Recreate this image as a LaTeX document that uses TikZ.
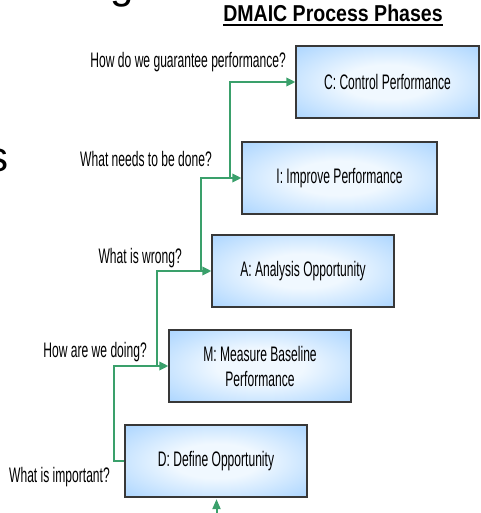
\documentclass[tikz,border=0pt]{standalone}
\usepackage{fontspec}
\setmainfont{Liberation Sans}
\newfontfamily\narrowfont[FakeStretch=0.575]{Liberation Sans}
\newfontfamily\titlefont[FakeStretch=0.85]{Liberation Sans Bold}
\usetikzlibrary{arrows.meta,calc}
\definecolor{boxblue}{HTML}{99CCFF}
\definecolor{boxcenter}{HTML}{F0F8FF}
\definecolor{flow}{HTML}{3AA06B}
\definecolor{boxedge}{HTML}{383838}
\pgfdeclareradialshading{phaseshade}{\pgfpoint{0bp}{0bp}}{color(0bp)=(boxcenter); color(12bp)=(boxcenter); color(42bp)=(boxblue); color(100bp)=(boxblue)}
\begin{document}
\begin{tikzpicture}[x=1bp,y=-1bp,
  phase/.style={draw=boxedge, line width=1.3bp, shade, shading=phaseshade,
    minimum width=182bp, minimum height=72bp, inner sep=0pt, align=center,
    font=\narrowfont\fontsize{21bp}{25bp}\selectfont, text=black},
  question/.style={font=\narrowfont\fontsize{21bp}{25bp}\selectfont, inner sep=0pt, anchor=base east},
  flowline/.style={draw=flow, line width=2bp},
  flowarrow/.style={flowline, -{Triangle[length=9bp,width=8.5bp]}},
  bigletter/.style={font=\fontsize{42bp}{48bp}\selectfont, inner sep=0pt}
]
\useasboundingbox (0,0) rectangle (481,513);
\clip (0,0) rectangle (481,513);

% fragments of the slide title
\node[bigletter, anchor=base] (gfrag) at (122.5,-1) {g};
\node[bigletter, anchor=base east] (sfrag) at (9,172) {s};

% title
\node[font=\titlefont\fontsize{23bp}{27bp}\selectfont, inner sep=0pt, anchor=base] (title) at (333,22) {DMAIC Process Phases};
\draw[line width=1.4bp] ($(title.base west)+(0,3.2)$) -- ($(title.base east)+(0,3.2)$);

% phases
\node[phase, minimum width=183bp] (C) at (387.5,82) {C: Control Performance};
\node[phase, minimum width=195bp] (I) at (339.5,178) {I: Improve Performance};
\node[phase] (A) at (303,271) {A: Analysis Opportunity};
\node[phase] (M) at (260,366) {M: Measure Baseline\\Performance};
\node[phase] (D) at (216,461) {D: Define Opportunity};

% questions
\node[question] (qC) at (286,67.5) {How do we guarantee performance?};
\node[question] (qI) at (212,166.5) {What needs to be done?};
\node[question] (qA) at (182,263.5) {What is wrong?};
\node[question] (qM) at (147,357) {How are we doing?};
\node[question] (qD) at (110,482) {What is important?};

% connectors
\draw[flowarrow] (D.west) -- ++(-10,0) |- (M.west);
\draw[flowarrow] ($(M.west)+(-11,0)$) |- (A.west);
\draw[flowarrow] ($(A.west)+(-10,0)$) |- (I.west);
\draw[flowarrow] ($(I.west)+(-11,0)$) |- (C.west);
\coordinate (entry) at (216.5,514);
\draw[flowline, -{Triangle[length=10bp,width=8bp]}] (entry) -- ($(D.south)+(0.5,1.5)$);
\end{tikzpicture}
\end{document}
